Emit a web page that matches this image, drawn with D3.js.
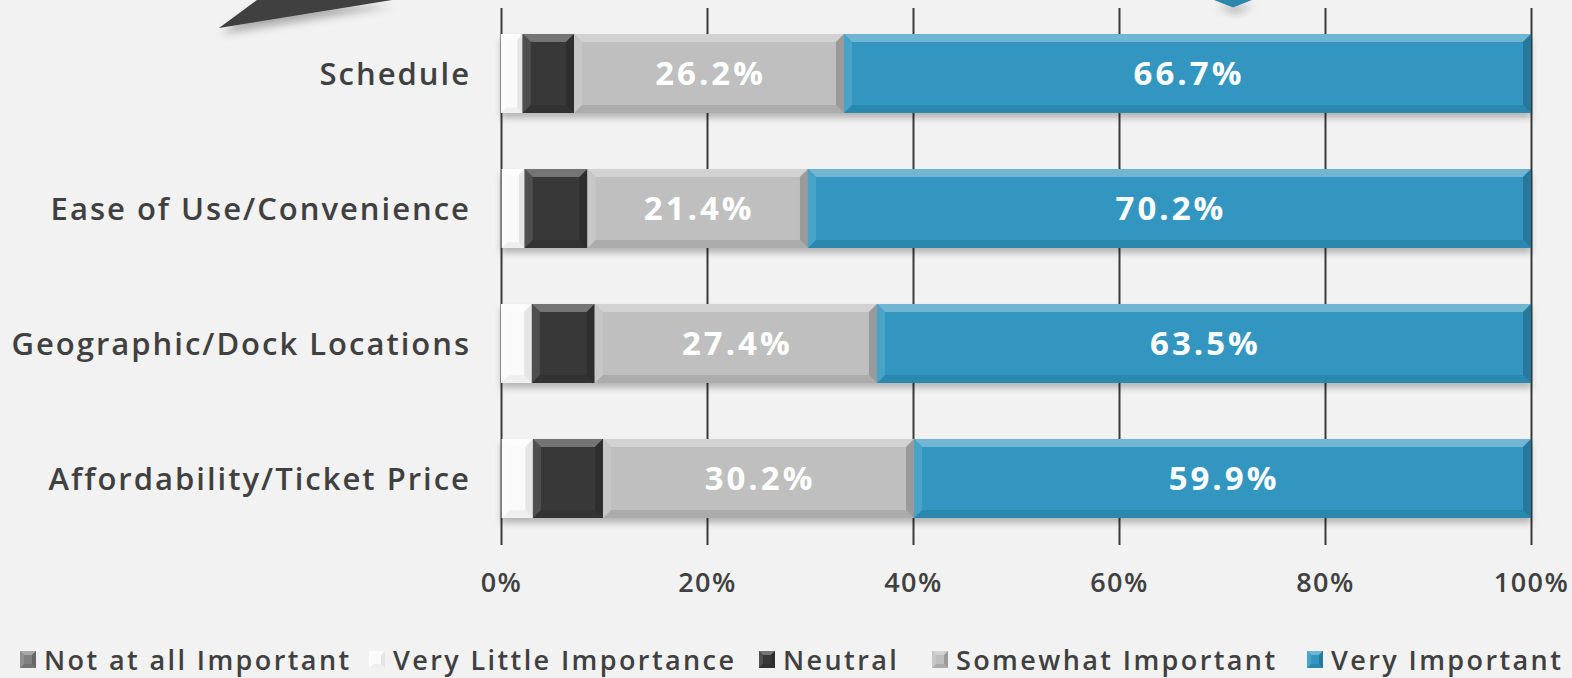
<!DOCTYPE html>
<html>
<head>
<meta charset="utf-8">
<script src="https://cdn.jsdelivr.net/npm/d3@7/dist/d3.min.js"></script>
<style>
  html, body { margin: 0; padding: 0; background: #f2f2f2; }
  svg { display: block; }
  .tick text { font-family: "Open Sans", sans-serif; }
</style>
</head>
<body>
<svg id="chart" width="1572" height="678"></svg>
<script>
// Importance ratings, percent of respondents per factor
const categories = ["Schedule", "Ease of Use/Convenience", "Geographic/Dock Locations", "Affordability/Ticket Price"];
const seriesNames = ["Not at all Important", "Very Little Importance", "Neutral", "Somewhat Important", "Very Important"];
const notAtAll      = [0.0, 0.1, 0.0, 0.1];
const veryLittle    = [2.1, 2.2, 3.0, 3.0];
const neutral       = [5.0, 6.1, 6.1, 6.8];
const somewhat      = [26.2, 21.4, 27.4, 30.2];
const veryImportant = [66.7, 70.2, 63.5, 59.9];
const xTickValues   = [0, 20, 40, 60, 80, 100];
const labelledSeries = ["Somewhat Important", "Very Important"];

const seriesColors = ["#808080", "#fafafa", "#383838", "#bfbfbf", "#3196c0"];

const rows = categories.map((c, i) => ({
  category: c,
  "Not at all Important": notAtAll[i],
  "Very Little Importance": veryLittle[i],
  "Neutral": neutral[i],
  "Somewhat Important": somewhat[i],
  "Very Important": veryImportant[i]
}));

const svg = d3.select("#chart");
const W = 1572, H = 678;

svg.append("rect").attr("width", W).attr("height", H).attr("fill", "#f2f2f2");

const defs = svg.append("defs");
const shadow = defs.append("filter").attr("id", "barShadow")
  .attr("x", "-5%").attr("y", "-20%").attr("width", "110%").attr("height", "150%");
shadow.append("feDropShadow").attr("dx", 0).attr("dy", 5).attr("stdDeviation", 3)
  .attr("flood-color", "#000").attr("flood-opacity", 0.25);
const softShadow = defs.append("filter").attr("id", "shapeShadow")
  .attr("x", "-30%").attr("y", "-50%").attr("width", "160%").attr("height", "300%");
softShadow.append("feDropShadow").attr("dx", 2).attr("dy", 6).attr("stdDeviation", 4)
  .attr("flood-color", "#000").attr("flood-opacity", 0.3);

// Callout pointers peeking in at the top edge
svg.append("path")
  .attr("d", "M219,28 L257,0 L392,0 Z")
  .attr("fill", "#3f3f3f")
  .attr("filter", "url(#shapeShadow)");
svg.append("path")
  .attr("d", "M1214,0 L1252,0 L1233,7.5 Z")
  .attr("fill", "#2e86ad")
  .attr("filter", "url(#shapeShadow)");

const x = d3.scaleLinear().domain([0, 100]).range([501, 1531]);
const y = d3.scaleBand().domain(categories).range([6, 546])
  .paddingInner(0.415).paddingOuter(0.2075);

// Vertical gridlines and percentage labels
const xAxis = svg.append("g")
  .attr("transform", "translate(0,545)")
  .call(d3.axisBottom(x).tickValues(xTickValues).tickFormat(d => d + "%")
    .tickSizeInner(-537).tickSizeOuter(0).tickPadding(28));
xAxis.select(".domain").remove();
xAxis.selectAll(".tick line").attr("stroke", "#3a3a3a").attr("stroke-width", 2);
xAxis.selectAll(".tick text")
  .attr("fill", "#404040").attr("font-size", 27).attr("font-weight", 600)
  .attr("letter-spacing", 1.5);

// Category labels
const yAxis = svg.append("g")
  .attr("transform", "translate(501,0)")
  .call(d3.axisLeft(y).tickSize(0).tickPadding(30));
yAxis.select(".domain").remove();
yAxis.selectAll(".tick text")
  .attr("fill", "#404040").attr("font-size", 31).attr("font-weight", 600)
  .attr("letter-spacing", 2.0).attr("dy", "0.36em");

// Bevelled block: flat face plus four shaded edge facets
function bevelBlock(g, x0, y0, x1, y1, color, size) {
  const w = x1 - x0, h = y1 - y0;
  if (w <= 0) return;
  const b = Math.min(size, w / 4, h / 2);
  const c = d3.color(color);
  const hsl = d3.hsl(color);
  const shade = hsl.l > 0.9 ? 0.25 : 0.6;
  const top = d3.interpolateRgb(color, "#ffffff")(0.3);
  const left = d3.interpolateRgb(color, "#ffffff")(0.12);
  const bottom = c.darker(shade * 0.5).formatHex();
  const right = c.darker(shade).formatHex();
  g.append("rect").attr("x", x0).attr("y", y0).attr("width", w).attr("height", h).attr("fill", color);
  const poly = (pts, fill) => g.append("polygon")
    .attr("points", pts.map(p => p.join(",")).join(" ")).attr("fill", fill);
  poly([[x0, y0], [x1, y0], [x1 - b, y0 + b], [x0 + b, y0 + b]], top);
  poly([[x0, y1], [x1, y1], [x1 - b, y1 - b], [x0 + b, y1 - b]], bottom);
  poly([[x0, y0], [x0 + b, y0 + b], [x0 + b, y1 - b], [x0, y1]], left);
  poly([[x1, y0], [x1 - b, y0 + b], [x1 - b, y1 - b], [x1, y1]], right);
}

const stacked = d3.stack().keys(seriesNames)(rows);
const color = d3.scaleOrdinal().domain(seriesNames).range(seriesColors);

const barRows = svg.append("g").selectAll("g.row")
  .data(categories).join("g").attr("class", "row")
  .attr("filter", "url(#barShadow)");

barRows.each(function (cat, i) {
  const g = d3.select(this);
  stacked.forEach(layer => {
    const d = layer[i];
    bevelBlock(g, x(d[0]), y(cat), x(d[1]), y(cat) + y.bandwidth(), color(layer.key), 8);
  });
});

// Value labels on the two largest segments
const labels = svg.append("g");
stacked.filter(l => labelledSeries.includes(l.key)).forEach(layer => {
  layer.forEach((d, i) => {
    const v = d[1] - d[0];
    labels.append("text")
      .attr("x", x((d[0] + d[1]) / 2) + 1.5)
      .attr("y", y(categories[i]) + y.bandwidth() / 2)
      .attr("dy", "0.36em")
      .attr("text-anchor", "middle")
      .attr("font-family", "Open Sans, sans-serif")
      .attr("font-size", 33).attr("font-weight", 700)
      .attr("letter-spacing", 3)
      .attr("fill", "#ffffff")
      .text(v.toFixed(1) + "%");
  });
});

// Legend
const legendX = [20, 369, 759, 932, 1307];
const legend = svg.append("g");
seriesNames.forEach((name, i) => {
  const g = legend.append("g");
  bevelBlock(g, legendX[i], 651, legendX[i] + 16, 668, seriesColors[i], 4);
  g.append("text")
    .attr("x", legendX[i] + 24).attr("y", 670)
    .attr("font-family", "Open Sans, sans-serif")
    .attr("font-size", 27).attr("font-weight", 600)
    .attr("letter-spacing", 2.4)
    .attr("fill", "#404040")
    .text(name);
});
</script>
</body>
</html>
